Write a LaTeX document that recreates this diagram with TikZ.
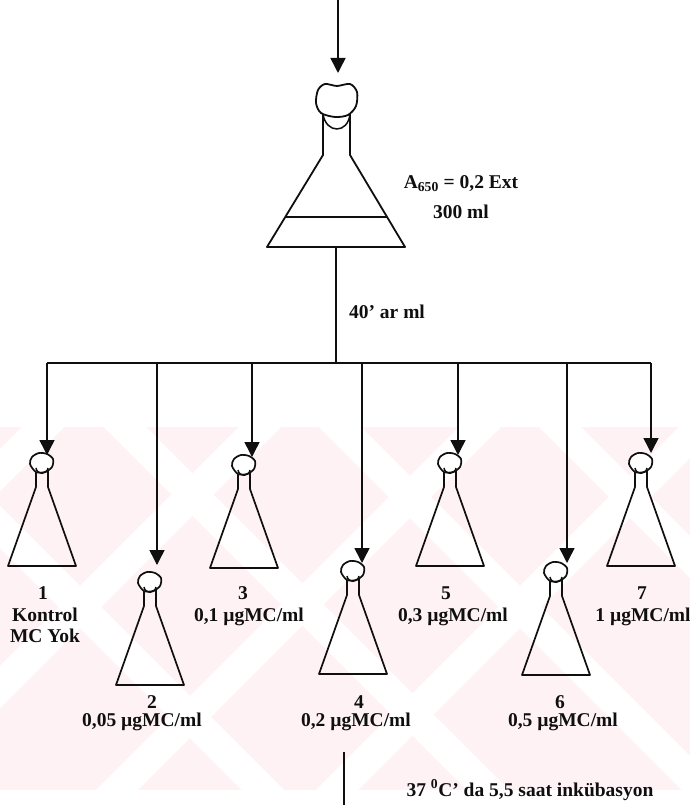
\documentclass[tikz,border=0pt]{standalone}
\usepackage{fontspec}
\setmainfont{Liberation Serif}
\usetikzlibrary{arrows.meta,positioning}
\definecolor{cInk}{RGB}{15,15,15}
\definecolor{cMark}{RGB}{254,242,245}

\begin{document}
\begin{tikzpicture}[x=1pt,y=1pt,
   t/.style={font=\bfseries\fontsize{19.5}{21}\selectfont,align=center,inner sep=0pt,cInk},
   l/.style={line width=1.5pt,cInk},
   a/.style={-{Triangle[width=15pt,length=15pt]},line width=1.5pt,cInk},
   flask/.pic={
     \draw[line width=1.7pt,cInk,line join=round]
       (-6,-17) -- (-6,-34) -- (-34,-113) -- (34,-113) -- (6,-34) -- (6,-17);
     \draw[line width=1.7pt,cInk,fill=white] plot[smooth cycle] coordinates
       {(-10,-4) (-3,0) (5,-1) (11,-6) (10,-14) (3,-19) (-6,-19) (-12,-11)};
     \draw[line width=1.5pt,cInk] (-6,-15) .. controls (-5,-22) and (5,-22) .. (6,-15);
   }]
  \useasboundingbox (0,0) rectangle (690,-805);
  % faint background band
  \begin{scope}
    \fill[cMark] (0,-427) rectangle (690,-790);
    \clip (0,-427) rectangle (690,-790);
    \foreach \s in {-100,125,340,560} \draw[white,line width=30pt] (\s-30,-397) -- ++(423,-423);
    \foreach \s in {43,260,480,700} \draw[white,line width=30pt] (\s+30,-397) -- ++(-423,-423);
  \end{scope}

  % stock flask
  \coordinate (in) at (338,0);
  \coordinate (top) at (338,-73);
  \draw[a] (in) -- (top);
  \draw[l,line width=1.8pt,line join=round]
    (323,-112) -- (323,-155) -- (267,-247) -- (405,-247) -- (350,-155) -- (350,-112);
  \draw[l] (285,-217) -- (387,-217);
  \draw[l,line width=1.8pt,fill=white] plot[smooth cycle] coordinates
    {(318,-90) (325,-84) (337,-86) (350,-84) (357,-92) (356,-106) (348,-115) (335,-117) (321,-113) (316,-103)};
  \draw[l] (323,-114) .. controls (326,-134) and (348,-134) .. (350,-114);
  \node[t] (ext) at (461,-197) {A\textsubscript{650} = 0,2 Ext\\[9pt]300 ml};

  % split into seven flasks
  \coordinate (base) at (336,-247);
  \coordinate (hub) at (336,-363);
  \draw[l] (base) -- (hub);
  \node[t] (vol) at (387,-312) {40’ ar ml};
  \foreach \i/\x/\y/\ax/\ty in {1/42/453/47/455, 2/150/572/157/565, 3/244/455/252/457,
      4/353/561/362/563, 5/450/453/458/455, 6/556/562/567/563, 7/641/453/651/453} {
    \coordinate (b\i) at (\ax,-363);
    \coordinate (t\i) at (\ax,-\ty);
    \pic (f\i) at (\x,-\y) {flask};
    \draw[a] (b\i) -- (t\i);
  }
  \draw[l] (b1) -- (b7);

  \node[t] (n1) at (43,-593) {1};
  \node[t] (c1) at (45,-625) {Kontrol\\MC Yok};
  \node[t] (n2) at (152,-702) {2};
  \node[t] (c2) at (142,-722) {0,05 µgMC/ml};
  \node[t] (n3) at (243,-593) {3};
  \node[t] (c3) at (249,-617) {0,1 µgMC/ml};
  \node[t] (n4) at (359,-702) {4};
  \node[t] (c4) at (356,-722) {0,2 µgMC/ml};
  \node[t] (n5) at (446,-593) {5};
  \node[t] (c5) at (453,-617) {0,3 µgMC/ml};
  \node[t] (n6) at (560,-702) {6};
  \node[t] (c6) at (563,-722) {0,5 µgMC/ml};
  \node[t] (n7) at (642,-593) {7};
  \node[t] (c7) at (643,-617) {1 µgMC/ml};

  % incubation
  \coordinate (out0) at (344,-752);
  \coordinate (out1) at (344,-805);
  \draw[l] (out0) -- (out1);
  \node[t] (inc) at (530,-790) {37 \textsuperscript{0}C’ da 5,5 saat inkübasyon};
\end{tikzpicture}
\end{document}
